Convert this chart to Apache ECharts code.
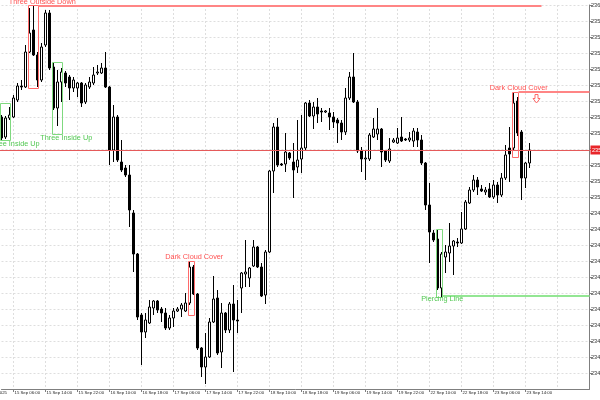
<!DOCTYPE html>
<html>
<head>
<meta charset="utf-8">
<script src="https://cdn.jsdelivr.net/npm/echarts@6/dist/echarts.min.js"></script>
<style>
  html, body { margin: 0; padding: 0; background: #fff; }
  #chart { width: 600px; height: 400px; }
</style>
</head>
<body>
<div id="chart"></div>
<script>
// time labels, one every 8 bars starting at bar 3
const tickLabels = ['15 Sep 06:00', '15 Sep 14:00', '15 Sep 22:00', '16 Sep 10:00', '16 Sep 18:00',
  '17 Sep 06:00', '17 Sep 14:00', '17 Sep 22:00', '18 Sep 10:00', '18 Sep 18:00', '19 Sep 06:00',
  '19 Sep 14:00', '19 Sep 22:00', '22 Sep 10:00', '22 Sep 18:00', '23 Sep 06:00', '23 Sep 14:00']

const opens = [
  2354.40, 2353.40, 2354.35, 2354.40, 2355.25, 2355.95, 2355.90, 2357.65, 2358.75, 2357.50,
  2356.25, 2358.00, 2359.60, 2356.90, 2354.85, 2356.15, 2356.60, 2356.40, 2355.85, 2355.85,
  2356.10, 2355.15, 2355.90, 2356.10, 2356.60, 2356.60, 2356.85, 2355.90, 2352.75, 2354.40,
  2352.15, 2351.85, 2351.50, 2349.60, 2347.55, 2344.50, 2343.65, 2344.10, 2344.85, 2345.20,
  2344.80, 2344.60, 2343.85, 2344.35, 2344.70, 2344.80, 2344.70, 2345.10, 2346.90, 2345.55,
  2342.85, 2341.90, 2342.40, 2344.15, 2345.35, 2342.65, 2344.60, 2343.75, 2345.05, 2344.25,
  2345.85, 2346.55, 2346.35, 2346.95, 2347.90, 2346.90, 2345.50, 2347.65, 2351.70, 2353.90,
  2352.05, 2352.05, 2352.60, 2352.15, 2351.90, 2352.30, 2352.85, 2355.10, 2354.45, 2354.90,
  2354.70, 2354.65, 2354.60, 2354.40, 2354.25, 2354.10, 2353.65, 2355.35, 2356.40, 2355.15,
  2352.70, 2352.30, 2352.30, 2353.40, 2353.55, 2353.80, 2352.70, 2352.20, 2353.15, 2353.10,
  2353.40, 2353.30, 2353.25, 2353.20, 2353.65, 2353.25, 2352.10, 2350.00, 2348.60, 2348.30,
  2345.85, 2347.40, 2347.60, 2347.95, 2348.15, 2348.10, 2348.80, 2350.10, 2350.75, 2351.25,
  2350.80, 2350.65, 2350.80, 2350.40, 2351.00, 2350.50, 2351.35, 2352.85, 2352.85, 2355.20,
  2353.65, 2351.35, 2352.10]
const closes = [
  2353.35, 2354.35, 2354.50, 2355.35, 2355.95, 2355.90, 2357.65, 2358.60, 2357.50, 2356.25,
  2357.90, 2359.60, 2356.85, 2354.85, 2356.15, 2356.65, 2356.10, 2355.85, 2356.25, 2356.10,
  2355.10, 2356.00, 2356.15, 2356.50, 2356.65, 2356.85, 2355.90, 2352.75, 2354.40, 2352.25,
  2351.75, 2351.50, 2349.75, 2347.55, 2344.40, 2343.65, 2344.25, 2344.90, 2345.20, 2344.75,
  2344.60, 2343.85, 2344.35, 2344.70, 2344.80, 2345.00, 2345.10, 2346.90, 2345.55, 2342.85,
  2341.90, 2342.40, 2344.15, 2345.30, 2342.60, 2344.60, 2343.75, 2345.05, 2344.25, 2344.20,
  2346.60, 2346.65, 2346.85, 2347.90, 2346.90, 2345.45, 2347.65, 2351.70, 2353.90, 2352.00,
  2352.00, 2352.65, 2352.35, 2351.75, 2352.25, 2352.85, 2355.10, 2354.45, 2354.90, 2354.55,
  2354.65, 2354.70, 2354.40, 2354.15, 2354.10, 2353.65, 2355.35, 2356.40, 2355.15, 2352.70,
  2352.30, 2352.35, 2353.50, 2353.80, 2353.80, 2352.65, 2352.25, 2352.80, 2353.25, 2353.35,
  2353.20, 2353.25, 2353.35, 2353.70, 2353.25, 2352.10, 2350.00, 2348.65, 2348.25, 2345.85,
  2347.55, 2347.65, 2347.95, 2348.20, 2348.10, 2348.80, 2350.15, 2350.75, 2351.25, 2350.90,
  2350.70, 2350.75, 2350.40, 2351.00, 2350.50, 2351.35, 2352.50, 2352.55, 2355.10, 2353.60,
  2351.35, 2352.10, 2352.75]
const lows = [
  2353.25, 2353.30, 2354.25, 2354.35, 2355.15, 2355.75, 2355.85, 2357.60, 2357.45, 2355.90,
  2356.15, 2357.90, 2356.75, 2354.75, 2353.95, 2355.15, 2355.90, 2355.25, 2355.65, 2355.40,
  2354.90, 2355.05, 2355.80, 2356.00, 2356.50, 2356.55, 2355.85, 2352.00, 2352.15, 2352.15,
  2351.65, 2351.40, 2348.90, 2346.65, 2344.25, 2342.00, 2343.35, 2344.05, 2344.50, 2344.60,
  2344.15, 2343.75, 2343.75, 2343.90, 2344.65, 2344.40, 2344.65, 2345.00, 2345.50, 2342.75,
  2341.40, 2341.05, 2342.35, 2344.10, 2342.50, 2341.85, 2343.60, 2343.60, 2341.65, 2343.60,
  2344.60, 2345.90, 2345.90, 2346.90, 2346.85, 2345.40, 2345.05, 2347.60, 2350.60, 2351.90,
  2351.95, 2351.65, 2352.25, 2350.35, 2351.60, 2351.60, 2352.75, 2354.40, 2353.80, 2354.10,
  2354.15, 2354.60, 2353.75, 2353.85, 2353.10, 2353.25, 2353.50, 2355.25, 2355.10, 2352.60,
  2351.65, 2351.25, 2352.20, 2353.35, 2353.25, 2351.90, 2352.15, 2352.10, 2353.10, 2353.05,
  2353.15, 2353.20, 2353.15, 2352.90, 2352.90, 2352.00, 2349.75, 2347.10, 2348.15, 2345.75,
  2345.40, 2346.60, 2347.15, 2346.50, 2347.90, 2348.05, 2348.75, 2350.05, 2350.65, 2350.50,
  2350.65, 2350.50, 2350.35, 2350.30, 2350.10, 2350.40, 2351.25, 2351.15, 2352.75, 2353.45,
  2350.25, 2350.85, 2351.85]
const highs = [
  2354.50, 2354.45, 2354.90, 2355.50, 2356.10, 2356.25, 2358.00, 2359.85, 2359.95, 2357.65,
  2358.10, 2359.75, 2359.75, 2357.15, 2356.75, 2356.85, 2356.70, 2356.50, 2356.40, 2356.15,
  2356.15, 2356.10, 2356.40, 2356.90, 2357.00, 2357.10, 2357.65, 2355.95, 2355.00, 2354.50,
  2353.25, 2352.00, 2352.00, 2349.75, 2347.60, 2344.60, 2344.60, 2345.25, 2345.25, 2345.25,
  2344.90, 2344.85, 2344.50, 2344.85, 2344.90, 2345.10, 2345.60, 2347.15, 2347.00, 2345.60,
  2342.90, 2343.60, 2344.35, 2346.45, 2345.75, 2345.10, 2344.65, 2345.15, 2346.00, 2345.25,
  2346.65, 2348.25, 2346.90, 2348.25, 2347.95, 2347.10, 2347.75, 2351.75, 2354.10, 2354.35,
  2352.10, 2353.60, 2352.65, 2353.10, 2354.25, 2354.50, 2355.15, 2355.25, 2355.15, 2355.35,
  2354.85, 2354.75, 2354.85, 2354.65, 2354.35, 2354.25, 2355.85, 2356.65, 2357.60, 2355.25,
  2352.90, 2352.75, 2353.60, 2354.35, 2354.85, 2353.85, 2352.75, 2353.35, 2353.35, 2353.85,
  2354.40, 2353.35, 2353.65, 2353.85, 2353.85, 2353.50, 2352.15, 2351.10, 2348.75, 2348.75,
  2347.65, 2348.00, 2349.10, 2348.25, 2348.35, 2349.65, 2350.25, 2350.90, 2351.50, 2351.40,
  2351.00, 2350.90, 2351.10, 2351.25, 2351.15, 2351.60, 2353.00, 2353.90, 2355.65, 2355.40,
  2353.75, 2352.15, 2353.10]

const lastPrice = 2352.75

// pattern boxes: bars from..to, price range
const patternBoxes = [
  { tone: 'red', from: 7, to: 9, high: 2360.00, low: 2355.85 },
  { tone: 'green', from: 0, to: 2, high: 2355.10, low: 2353.25 },
  { tone: 'green', from: 13, to: 15, high: 2357.15, low: 2353.55 },
  { tone: 'red', from: 47, to: 48, high: 2347.20, low: 2344.50 },
  { tone: 'red', from: 128, to: 129, high: 2355.65, low: 2352.40 },
  { tone: 'green', from: 109, to: 110, high: 2348.80, low: 2345.40 }
]
const patternNames = [
  { text: 'Three Outside Down', tone: 'red', bar: 10.2, price: 2360.15 },
  { text: 'Three Inside Up', tone: 'green', bar: 3.05, price: 2353.05 },
  { text: 'Three Inside Up', tone: 'green', bar: 16.2, price: 2353.35 },
  { text: 'Dark Cloud Cover', tone: 'red', bar: 48.2, price: 2347.40 },
  { text: 'Dark Cloud Cover', tone: 'red', bar: 129.3, price: 2355.85 },
  { text: 'Piercing Line', tone: 'green', bar: 110.2, price: 2345.30 }
]
// horizontal levels (to: null = right edge)
const levels = [
  { tone: 'red', from: 9, to: 135, price: 2359.95 },
  { tone: 'red', from: 129, to: null, price: 2355.65 },
  { tone: 'green', from: 110, to: null, price: 2345.45 }
]
const arrowMark = { bar: 133.6, price: 2355.55 }

const TONES = {
  red: { line: '#ff8585', box: '#ff6a6a', text: '#ff5252' },
  green: { line: '#93e693', box: '#7fd97f', text: '#52c852' }
}

const BAR_SLOTS = 148
const cats = Array.from({ length: BAR_SLOTS }, (_, i) => String(i))
const onTick = i => i >= 3 && (i - 3) % 8 === 0
const onLabel = i => onTick(i) && (i - 3) / 8 < tickLabels.length
const candles = opens.map((o, i) => [o, closes[i], lows[i], highs[i]])

const chart = echarts.init(document.getElementById('chart'))
const AXIS = '#7f7f7f'
const GRIDLINE = { color: '#dedede', type: [2, 2], width: 1 }
const SCALE_FONT = 5.6

chart.setOption({
  animation: false,
  backgroundColor: '#fff',
  grid: { left: 1.5, right: 10.5, top: 5, bottom: 11, containLabel: false, outerBoundsMode: 'none' },
  xAxis: {
    type: 'category',
    data: cats,
    boundaryGap: false,
    axisLine: { lineStyle: { color: AXIS } },
    axisTick: { interval: onLabel, length: 3, lineStyle: { color: AXIS } },
    axisLabel: {
      interval: onLabel,
      formatter: (v, i) => tickLabels[(i - 3) / 8] || '',
      align: 'left', margin: 1.5, padding: [0, 0, 0, 1],
      fontSize: 4.3, fontFamily: 'Liberation Sans', color: '#222'
    },
    splitLine: { show: true, interval: onTick, lineStyle: GRIDLINE }
  },
  yAxis: {
    type: 'value',
    position: 'right',
    min: 2340.8, max: 2360, interval: 0.8,
    axisLine: { show: true, lineStyle: { color: AXIS } },
    axisTick: { show: true, length: 3, lineStyle: { color: AXIS } },
    axisLabel: {
      margin: 1.5, fontSize: SCALE_FONT, fontFamily: 'Liberation Sans', color: '#333',
      showMinLabel: false, formatter: v => v.toFixed(2)
    },
    splitLine: { lineStyle: GRIDLINE }
  },
  series: [{
    type: 'candlestick',
    data: candles,
    barWidth: 2,
    clip: false,
    itemStyle: { color: '#fff', color0: '#000', borderColor: '#000', borderColor0: '#000', borderWidth: 1 }
  }]
})

// overlay objects placed through the axes
const x0 = chart.convertToPixel({ xAxisIndex: 0 }, 0)
const x1 = chart.convertToPixel({ xAxisIndex: 0 }, 1)
const xOf = b => x0 + b * (x1 - x0)
const yOf = p => chart.convertToPixel({ yAxisIndex: 0 }, p)
const rightEdge = xOf(BAR_SLOTS - 1)
const crisp = v => Math.round(v) + 0.5
const labelFont = '7.3px "Liberation Sans"'

const g = []
const py = crisp(yOf(lastPrice))
g.push({ type: 'line', z: 50, shape: { x1: 0, y1: py, x2: rightEdge, y2: py }, style: { stroke: '#e55a5a', lineWidth: 1 } })

patternBoxes.forEach(b => {
  const l = Math.floor(xOf(b.from)) - 0.5, r = Math.floor(xOf(b.to)) + 1.5
  const t = crisp(yOf(b.high)), btm = crisp(yOf(b.low))
  g.push({ type: 'rect', z: 60, shape: { x: l, y: t, width: r - l, height: btm - t },
    style: { fill: 'none', stroke: TONES[b.tone].box, lineWidth: 1 } })
})

levels.forEach(lv => {
  const y = Math.round(yOf(lv.price))
  g.push({ type: 'line', z: 60,
    shape: { x1: xOf(lv.from) + 1, y1: y, x2: lv.to == null ? rightEdge : xOf(lv.to), y2: y },
    style: { stroke: TONES[lv.tone].line, lineWidth: 2 } })
})

patternNames.forEach(n => {
  g.push({ type: 'text', z: 70, x: xOf(n.bar), y: yOf(n.price),
    style: { text: n.text, fill: TONES[n.tone].text, font: labelFont,
      align: 'center', verticalAlign: 'middle', textAlign: 'center', textVerticalAlign: 'middle' } })
})

// down arrow outline
const ax = Math.round(xOf(arrowMark.bar)) + 0.5, ay = Math.round(yOf(arrowMark.price)) + 0.5
g.push({ type: 'polygon', z: 70,
  shape: { points: [[ax - 1.5, ay], [ax + 1.5, ay], [ax + 1.5, ay + 4], [ax + 3.5, ay + 4],
    [ax, ay + 8.5], [ax - 3.5, ay + 4], [ax - 1.5, ay + 4]] },
  style: { fill: '#fff', stroke: '#ff6a6a', lineWidth: 1 } })

// last price tag on the scale
g.push({ type: 'text', z: 80, x: rightEdge + 1, y: yOf(lastPrice),
  style: { text: lastPrice.toFixed(2), fill: '#fff', backgroundColor: '#e8262a', padding: [1.5, 1.5],
    font: SCALE_FONT + 'px "Liberation Sans"', verticalAlign: 'middle', textVerticalAlign: 'middle' } })

// clipped first date label at far left
g.push({ type: 'text', z: 80, x: 7, y: 393,
  style: { text: '12 Sep 2025', fill: '#222', font: '4.3px "Liberation Sans"',
    align: 'right', verticalAlign: 'middle', textAlign: 'right', textVerticalAlign: 'middle' } })

chart.setOption({ graphic: g })
</script>
</body>
</html>
